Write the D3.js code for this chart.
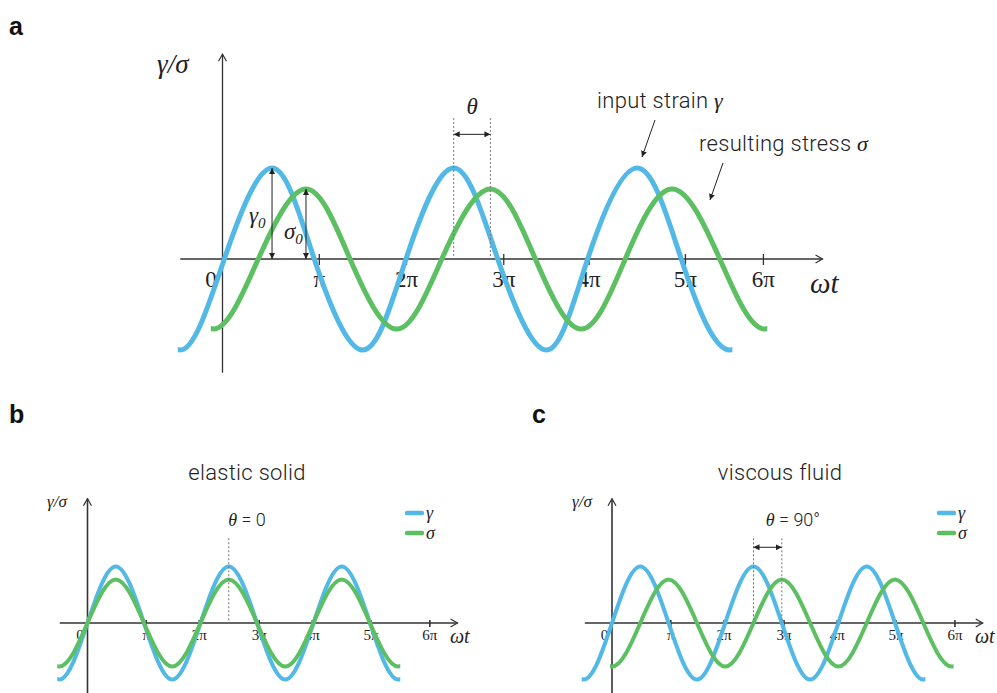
<!DOCTYPE html>
<html>
<head>
<meta charset="utf-8">
<script src="https://cdn.jsdelivr.net/npm/d3@7"></script>
<style>
  body { margin: 0; background: #fff; }
  svg { display: block; }
</style>
</head>
<body>
<svg width="997" height="693"></svg>
<script>

// tick labels (multiples of pi) shared by all panels
var tickLabels = ["0", "π", "2π", "3π", "4π", "5π", "6π"];

// tick positions in units of pi, as they sit in the drawing
var ticksA  = [0, 1.05, 2.0, 3.06, 3.99, 5.04, 5.89];
var ticksBC = [0, 1.03, 1.97, 3.03, 3.97, 5.01, 6.05];

// key points of each wave: [phase in units of pi, value relative to strain amplitude]
var strainA = [[-0.46,-1],[0.02,0],[0.54,1],[1.0,0],[1.53,-1],[2.0,0],[2.52,1],
               [3.0,0],[3.53,-1],[3.98,0],[4.52,1],[5.0,0],[5.53,-1]];
var stressA = [[-0.10,-0.77],[0.39,0],[0.91,0.77],[1.39,0],[1.90,-0.77],[2.39,0],[2.92,0.77],
               [3.41,0],[3.91,-0.77],[4.39,0],[4.90,0.77],[5.42,0],[5.91,-0.77]];

var strainB = [[-0.5,-1],[0,0],[0.5,1],[1,0],[1.5,-1],[2,0],[2.5,1],
               [3,0],[3.5,-1],[4,0],[4.5,1],[5,0],[5.5,-1]];
var stressB = [[-0.5,-0.77],[0,0],[0.5,0.77],[1,0],[1.5,-0.77],[2,0],[2.5,0.77],
               [3,0],[3.5,-0.77],[4,0],[4.5,0.77],[5,0],[5.5,-0.77]];

var strainC = [[-0.5,-1],[0,0],[0.5,1],[1,0],[1.5,-1],[2,0],[2.5,1],
               [3,0],[3.5,-1],[4,0],[4.5,1],[5,0],[5.5,-1]];
var stressC = [[0,-0.77],[0.5,0],[1,0.77],[1.5,0],[2,-0.77],[2.5,0],[3,0.77],
               [3.5,0],[4,-0.77],[4.5,0],[5,0.77],[5.5,0],[6,-0.77]];

var blue = "#52b8e5",
    green = "#5cbf62",
    axisCol = "#333",
    serif = "'Liberation Serif', 'DejaVu Serif', serif",
    sans = "'Roboto', 'Liberation Sans', Arial, sans-serif";

var svg = d3.select("svg");
var clipId = 0;

var defs = svg.append("defs");
defs.append("marker")
    .attr("id", "open")
    .attr("viewBox", "-9 -5 10 10")
    .attr("refX", 0).attr("refY", 0)
    .attr("markerWidth", 10).attr("markerHeight", 10)
    .attr("markerUnits", "userSpaceOnUse")
    .attr("orient", "auto")
  .append("path")
    .attr("d", "M-7,-4L0,0L-7,4")
    .attr("fill", "none")
    .attr("stroke", axisCol)
    .attr("stroke-width", 1.2);
defs.append("marker")
    .attr("id", "tri")
    .attr("viewBox", "-7 -3.5 7 7")
    .attr("refX", 0).attr("refY", 0)
    .attr("markerWidth", 6).attr("markerHeight", 6)
    .attr("markerUnits", "userSpaceOnUse")
    .attr("orient", "auto-start-reverse")
  .append("path")
    .attr("d", "M-7,-3.5L0,0L-7,3.5Z")
    .attr("fill", "#222");

// the waves stop on a crest/trough, so mirror the neighbouring key point
// past each end to keep the spline flat there, then clip it off
function withFlatEnds(pts) {
  var n = pts.length,
      first = pts[0], last = pts[n - 1];
  var pre = [2 * first[0] - pts[1][0], pts[1][1]],
      post = [2 * last[0] - pts[n - 2][0], pts[n - 2][1]];
  return [pre].concat(pts, [post]);
}

function wave(p, pts, color, w) {
  var id = "clip" + (clipId++);
  var x0 = p.x(pts[0][0]) - w / 2,
      x1 = p.x(pts[pts.length - 1][0]) + w / 2;
  defs.append("clipPath").attr("id", id)
    .append("rect")
      .attr("x", x0).attr("y", 0)
      .attr("width", x1 - x0).attr("height", 693);
  p.g.append("path").datum(withFlatEnds(pts))
      .attr("d", p.line)
      .attr("clip-path", "url(#" + id + ")")
      .attr("fill", "none")
      .attr("stroke", color).attr("stroke-width", w);
}

function panel(cfg) {
  var x = d3.scaleLinear().domain([0, 6]).range([cfg.x0, cfg.x0 + 6 * cfg.unit]),
      y = d3.scaleLinear().domain([-1, 1]).range([cfg.y0 + cfg.amp, cfg.y0 - cfg.amp]);

  var g = svg.append("g");

  // axes
  g.append("line")
      .attr("x1", x(cfg.xMin)).attr("x2", x(cfg.xMax))
      .attr("y1", y(0)).attr("y2", y(0))
      .attr("stroke", axisCol).attr("stroke-width", cfg.axisW)
      .attr("marker-end", "url(#open)");
  g.append("line")
      .attr("x1", x(0)).attr("x2", x(0))
      .attr("y1", y(cfg.yMin)).attr("y2", y(cfg.yMax))
      .attr("stroke", axisCol).attr("stroke-width", cfg.axisW)
      .attr("marker-end", "url(#open)");

  var axis = d3.axisBottom(x)
      .tickValues(cfg.ticks)
      .tickFormat(function(d, i) { return tickLabels[i]; })
      .tickSizeInner(cfg.tickDown)
      .tickSizeOuter(0);

  var ax = g.append("g")
      .attr("transform", "translate(0," + y(0) + ")")
      .call(axis);
  ax.select(".domain").remove();
  ax.selectAll(".tick line")
      .attr("y1", -cfg.tickUp)
      .attr("stroke", axisCol)
      .attr("stroke-width", cfg.axisW);
  ax.selectAll(".tick").filter(function(d, i) { return i === 0; }).select("line").remove();
  ax.selectAll(".tick text")
      .attr("y", cfg.labelY)
      .attr("dy", 0)
      .attr("dx", function(d, i) { return i === 0 ? cfg.zeroDx : 0; })
      .attr("font-family", serif)
      .attr("font-size", cfg.tickFont)
      .attr("fill", "#222");

  var line = d3.line()
      .curve(d3.curveNatural)
      .x(function(d) { return x(d[0]); })
      .y(function(d) { return y(d[1]); });

  var p = {g: g, x: x, y: y, line: line};

  // waves: strain underneath, stress on top
  wave(p, cfg.strain, blue, cfg.lineW);
  wave(p, cfg.stress, green, cfg.lineW);

  // axis titles
  g.append("text")
      .attr("x", cfg.yLabel[0]).attr("y", cfg.yLabel[1])
      .attr("font-family", serif).attr("font-style", "italic")
      .attr("font-size", cfg.yLabelFont).attr("fill", "#222")
      .text("γ/σ");
  g.append("text")
      .attr("x", cfg.xLabel[0]).attr("y", cfg.xLabel[1])
      .attr("font-family", serif).attr("font-style", "italic")
      .attr("font-size", cfg.xLabelFont).attr("fill", "#222")
      .text("ωt");

  return p;
}

function dashed(p, xv, yTop) {
  p.g.append("line")
      .attr("x1", p.x(xv)).attr("x2", p.x(xv))
      .attr("y1", p.y(yTop)).attr("y2", p.y(0))
      .attr("stroke", "#777").attr("stroke-width", 1)
      .attr("stroke-dasharray", "2,2");
}

function dblArrow(p, x1, y1, x2, y2) {
  p.g.append("line")
      .attr("x1", x1).attr("y1", y1).attr("x2", x2).attr("y2", y2)
      .attr("stroke", "#222").attr("stroke-width", 1)
      .attr("marker-start", "url(#tri)")
      .attr("marker-end", "url(#tri)");
}

function panelLabel(t, x, y) {
  svg.append("text")
      .attr("x", x).attr("y", y)
      .attr("font-family", "'Liberation Sans', Arial, sans-serif")
      .attr("font-weight", "bold").attr("font-size", 25)
      .attr("fill", "#111")
      .text(t);
}

// ---------- panel a ----------
var a = panel({
  x0: 222.5, unit: 91.75, y0: 259, amp: 91,
  xMin: -0.46, xMax: 6.54, yMin: -1.25, yMax: 2.25,
  ticks: ticksA, tickDown: 6, tickUp: 5, tickFont: 23, labelY: 28, zeroDx: -12,
  lineW: 5, axisW: 1.3,
  strain: strainA, stress: stressA,
  yLabel: [157, 73], yLabelFont: 27,
  xLabel: [810, 293], xLabelFont: 29
});

// amplitude arrows
dblArrow(a, a.x(strainA[2][0]), a.y(0), a.x(strainA[2][0]), a.y(strainA[2][1]));
dblArrow(a, a.x(stressA[2][0]), a.y(0), a.x(stressA[2][0]), a.y(stressA[2][1]));
var g0 = a.g.append("text").attr("x", 249).attr("y", 223)
    .attr("font-family", serif).attr("font-style", "italic").attr("font-size", 23).attr("fill", "#222");
g0.append("tspan").text("γ");
g0.append("tspan").attr("font-size", 15).attr("dy", 5).text("0");
var s0 = a.g.append("text").attr("x", 284).attr("y", 239)
    .attr("font-family", serif).attr("font-style", "italic").attr("font-size", 23).attr("fill", "#222");
s0.append("tspan").text("σ");
s0.append("tspan").attr("font-size", 15).attr("dy", 5).text("0");

// phase lag theta
dashed(a, strainA[6][0], 1.55);
dashed(a, stressA[6][0], 1.55);
dblArrow(a, a.x(strainA[6][0]), a.y(1.37), a.x(stressA[6][0]), a.y(1.37));
a.g.append("text")
    .attr("x", (a.x(strainA[6][0]) + a.x(stressA[6][0])) / 2).attr("y", 114)
    .attr("text-anchor", "middle")
    .attr("font-family", serif).attr("font-style", "italic").attr("font-size", 23).attr("fill", "#222")
    .text("θ");

// callouts
function callout(p, txt, sym, tx, ty, x1, y1, x2, y2) {
  var t = p.g.append("text").attr("x", tx).attr("y", ty)
      .attr("font-family", sans).attr("font-weight", 300).attr("font-size", 22)
      .attr("letter-spacing", 0.3).attr("fill", "#222");
  t.append("tspan").text(txt + " ");
  t.append("tspan").attr("font-family", serif).attr("font-style", "italic").attr("font-size", 22).text(sym);
  p.g.append("line")
      .attr("x1", x1).attr("y1", y1).attr("x2", x2).attr("y2", y2)
      .attr("stroke", "#222").attr("stroke-width", 1)
      .attr("marker-end", "url(#tri)");
}
callout(a, "input strain", "γ", 597, 108, 655, 120, 642, 157);
callout(a, "resulting stress", "σ", 699, 151, 723, 163, 710, 200);

panelLabel("a", 9, 35);

// ---------- panels b and c ----------
function smallPanel(cfg, title, titleX, thetaText, thetaX, from, to) {
  var p = panel(cfg);
  p.g.append("text")
      .attr("x", titleX).attr("y", 480)
      .attr("text-anchor", "middle")
      .attr("font-family", sans).attr("font-weight", 300).attr("font-size", 22)
      .attr("letter-spacing", 0.3).attr("fill", "#222")
      .text(title);

  var th = p.g.append("text").attr("x", thetaX).attr("y", 526)
      .attr("text-anchor", "middle")
      .attr("font-family", sans).attr("font-weight", 300).attr("font-size", 18).attr("fill", "#222");
  th.append("tspan").attr("font-family", serif).attr("font-style", "italic").text("θ");
  th.append("tspan").text(" = " + thetaText);

  dashed(p, from, 1.5);
  if (to !== from) {
    dashed(p, to, 1.5);
    dblArrow(p, p.x(from), p.y(1.34), p.x(to), p.y(1.34));
  }

  // legend
  var lx = cfg.legendX;
  [["γ", blue, 513], ["σ", green, 533]].forEach(function(e) {
    p.g.append("line")
        .attr("x1", lx).attr("x2", lx + 15).attr("y1", e[2]).attr("y2", e[2])
        .attr("stroke", e[1]).attr("stroke-width", 4.5).attr("stroke-linecap", "round");
    p.g.append("text")
        .attr("x", lx + 19).attr("y", e[2] + 6)
        .attr("font-family", serif).attr("font-style", "italic").attr("font-size", 18).attr("fill", "#222")
        .text(e[0]);
  });
  return p;
}

smallPanel({
  x0: 87.5, unit: 56.5, y0: 623, amp: 56.5,
  xMin: -0.49, xMax: 6.55, yMin: -1.32, yMax: 2.2,
  ticks: ticksBC, tickDown: 4, tickUp: 3, tickFont: 15, labelY: 17, zeroDx: -8,
  lineW: 4, axisW: 1.6,
  strain: strainB, stress: stressB,
  yLabel: [47, 507], yLabelFont: 17,
  xLabel: [450, 643], xLabelFont: 20,
  legendX: 407
}, "elastic solid", 247, "0", 247, strainB[6][0], stressB[6][0]);

smallPanel({
  x0: 612, unit: 56.6, y0: 623, amp: 56.5,
  xMin: -0.48, xMax: 6.55, yMin: -1.32, yMax: 2.2,
  ticks: ticksBC, tickDown: 4, tickUp: 3, tickFont: 15, labelY: 17, zeroDx: -8,
  lineW: 4, axisW: 1.6,
  strain: strainC, stress: stressC,
  yLabel: [572, 507], yLabelFont: 17,
  xLabel: [975, 643], xLabelFont: 20,
  legendX: 939
}, "viscous fluid", 780, "90°", 793, strainC[6][0], stressC[6][0]);

panelLabel("b", 9, 423);
panelLabel("c", 532, 423);

</script>
</body>
</html>
